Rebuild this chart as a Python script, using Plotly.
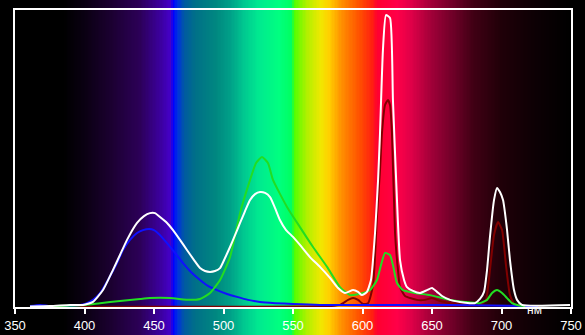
import numpy as np
import plotly.graph_objects as go

# ---- data (wavelength nm, relative intensity %) ----
white_nm = [360.8, 375.2, 389.6, 398.9, 406.1, 413.3, 420.5, 425.5, 430.6, 437.8, 442.8, 447.1, 450.7, 454.3,
            459.4, 463.7, 468.7, 473.7, 478.8, 483.1, 486.7, 490.3, 493.9, 497.5, 501.1, 504.7, 508.3, 511.9,
            515.5, 519.1, 522.7, 526.3, 529.9, 533.5, 537.1, 540.6, 545.0, 550.0, 555.0, 562.2, 569.4, 576.6,
            582.4, 587.4, 593.2, 596.8, 599.6, 603.2, 606.1, 609.0, 611.2, 612.6, 614.7, 616.9, 619.8, 621.9,
            624.8, 627.0, 629.9, 632.0, 636.3, 641.4, 646.4, 650.0, 653.6, 657.2, 663.0, 670.1, 677.3, 680.9,
            684.5, 687.4, 689.6, 691.7, 694.6, 696.8, 698.9, 701.1, 704.0, 706.1, 709.0, 711.2, 714.7, 749.3]
white_val = [0.2, 0.3, 0.7, 0.7, 1.7, 5.7, 12.5, 17.5, 22.6, 28.3, 30.6, 31.6, 31.6, 30.3,
             28.3, 25.9, 22.6, 19.2, 15.8, 13.1, 12.1, 11.8, 12.1, 13.1, 16.5, 20.2, 24.2, 28.3,
             32.3, 36.0, 38.0, 38.7, 38.4, 37.0, 33.3, 29.3, 25.9, 23.6, 20.9, 16.8, 13.5, 9.8,
             6.4, 4.7, 5.7, 5.1, 4.0, 5.1, 9.1, 24.9, 42.8, 58.6, 86.5, 98.3, 97.3, 69.7,
             36.0, 15.8, 9.1, 6.7, 5.4, 4.7, 5.7, 6.4, 5.1, 3.7, 2.4, 1.7, 1.3, 1.3,
             2.7, 5.1, 12.5, 23.6, 36.0, 40.1, 38.7, 36.0, 25.9, 15.8, 5.7, 2.4, 0.7, 0.7]

blue_nm = [360.8, 368.0, 375.2, 389.6, 400.4, 406.1, 411.2, 416.9, 423.4, 427.7, 432.7, 437.8, 442.1, 446.5,
           450.0, 454.3, 459.4, 465.1, 470.9, 476.6, 483.1, 488.8, 495.3, 502.5, 509.7, 517.6, 526.3, 537.1,
           550.0, 569.4, 663.0, 726.3]
blue_val = [0.3, 0.7, 0.3, 0.3, 1.0, 2.4, 4.7, 9.1, 14.8, 19.2, 22.6, 24.9, 25.9, 26.3,
            25.9, 24.2, 21.5, 18.2, 14.8, 11.8, 9.1, 7.1, 5.7, 4.4, 3.4, 2.4, 1.7, 1.3,
            1.0, 0.7, 0.7, 0.3]

green_nm = [375.2, 400.4, 411.2, 425.5, 440.0, 447.1, 461.5, 475.9, 483.1, 490.3, 497.5, 504.7, 511.9, 519.1,
            523.4, 527.7, 532.0, 535.6, 545.7, 555.0, 564.4, 574.5, 583.8, 591.0, 600.4, 605.4, 610.4, 613.3,
            616.2, 619.8, 621.9, 624.8, 629.1, 637.8, 648.6, 663.0, 673.7, 684.5, 689.6, 693.2, 696.8, 700.4,
            704.0, 707.6, 711.2, 717.0]
green_val = [0.3, 0.7, 1.3, 2.0, 2.7, 3.0, 3.0, 2.4, 2.7, 4.7, 9.1, 16.8, 31.6, 42.8,
             48.5, 50.5, 48.5, 42.8, 33.7, 26.9, 20.2, 13.5, 6.7, 4.0, 4.7, 5.7, 9.1, 14.1,
             18.2, 17.5, 14.1, 8.1, 5.7, 4.7, 4.0, 2.4, 1.7, 1.3, 2.4, 4.7, 5.7, 4.7,
             3.0, 1.3, 0.7, 0.3]

red_nm = [360.8, 576.6, 583.8, 589.6, 593.2, 596.8, 600.4, 604.0, 607.6, 610.4, 612.6, 614.0, 616.2, 618.3,
          619.8, 621.2, 623.4, 625.5, 627.0, 630.6, 639.2, 645.0, 650.0, 655.8, 666.5, 684.5, 688.8, 691.7,
          694.6, 697.5, 700.4, 703.2, 706.1, 709.7, 727.7]
red_val = [0.2, 0.3, 0.7, 2.4, 3.0, 2.4, 1.0, 1.3, 7.4, 30.3, 46.1, 58.6, 68.0, 69.7,
           68.0, 58.6, 24.9, 12.5, 6.7, 3.7, 2.4, 2.4, 3.0, 2.0, 1.0, 0.7, 2.4, 12.5,
           24.2, 28.6, 25.9, 14.1, 4.0, 0.7, 0.3]

tick_vals = [350, 400, 450, 500, 550, 600, 650, 700, 750]

# spectrum background colour stops (nm, colour)
spec_nm = [350, 385, 400, 420, 440, 455, 462, 464, 467, 472, 480, 495, 505, 515, 525, 540, 549, 551,
           560, 570, 576, 585, 598, 607, 611, 625, 635, 650, 665, 680, 700, 725, 750]
spec_col = ["#000000", "#000000", "#0a0012", "#1c0032", "#2c0058", "#3c00a0", "#4400c8", "#0000ff",
            "#0030e0", "#005aa0", "#007088", "#008880", "#00a088", "#00c890", "#00e890", "#00ff80",
            "#00ff60", "#50ff00", "#b0f000", "#f0e800", "#ffd000", "#ff9000", "#ff5000", "#ff2010",
            "#ff0030", "#ff0048", "#e00048", "#a00038", "#700028", "#400014", "#200008", "#0c0004",
            "#000000"]

lo, hi = spec_nm[0], spec_nm[-1]
colorscale = [[(n - lo) / (hi - lo), c] for n, c in zip(spec_nm, spec_col)]
bg_x = np.arange(lo, hi + 1)

fig = go.Figure()
fig.add_trace(go.Heatmap(x=bg_x, y=[0, 1], z=[bg_x, bg_x], colorscale=colorscale,
                         zmin=lo, zmax=hi, showscale=False, hoverinfo="skip",
                         xaxis="x", yaxis="y"))

for nm, val, col in [(red_nm, red_val, "#800000"), (blue_nm, blue_val, "#1010ff"),
                     (green_nm, green_val, "#22dd22"), (white_nm, white_val, "#ffffff")]:
    fig.add_trace(go.Scatter(x=nm, y=val, mode="lines",
                             line=dict(color=col, width=2, shape="spline", smoothing=0.5),
                             xaxis="x2", yaxis="y2", showlegend=False, hoverinfo="skip"))

xdom = [15 / 585, 571 / 585]
fig.update_layout(
    width=585, height=335,
    margin=dict(l=0, r=0, t=0, b=0, pad=0, autoexpand=False),
    paper_bgcolor="black", plot_bgcolor="rgba(0,0,0,0)",
    showlegend=False,
    xaxis=dict(domain=xdom, range=[350, 750], visible=False, anchor="y", automargin=False),
    yaxis=dict(domain=[0, 1], range=[0, 1], visible=False, anchor="x", automargin=False),
    xaxis2=dict(domain=xdom, range=[350, 750], anchor="y2", tickvals=tick_vals,
                ticks="outside", ticklen=5, tickwidth=1.5, tickcolor="white",
                showline=True, linecolor="white", linewidth=2, mirror=True,
                showgrid=False, zeroline=False, automargin=False,
                tickfont=dict(family="Liberation Sans, Arial, sans-serif", size=13, color="white")),
    yaxis2=dict(domain=[28 / 335, 325 / 335], range=[0, 100], anchor="x2",
                showline=True, linecolor="white", linewidth=2, mirror=True, automargin=False,
                showticklabels=False, ticks="", showgrid=False, zeroline=False),
    annotations=[dict(text="нм", x=723.5, y=0.047, xref="x2", yref="paper", showarrow=False,
                      font=dict(family="Liberation Sans, Arial, sans-serif", size=12, color="white"))],
)

fig.write_html("out.html")
